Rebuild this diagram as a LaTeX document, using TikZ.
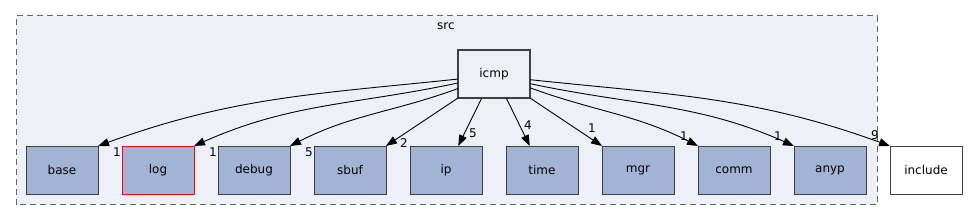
\documentclass[tikz,border=0pt]{standalone}
\usepackage{fontspec}
\setmainfont{DejaVu Sans}
\usepackage{tikz}
\usetikzlibrary{arrows.meta, positioning}
\usepackage{xcolor}
\definecolor{DirFill}{HTML}{A2B4D6}
\definecolor{DirLine}{HTML}{404040}
\definecolor{ClusterFill}{HTML}{EDF0F7}
\definecolor{ClusterLine}{HTML}{666666}

\tikzset{
  dirbox/.style={draw=DirLine, fill=DirFill, line width=0.8pt, minimum width=72pt,
                 minimum height=48pt, inner sep=0pt, outer sep=0pt,
                 font=\fontsize{12}{14}\selectfont},
  depedge/.style={black, line width=0.9pt, -{Triangle[length=11pt, width=8pt]}},
  countlabel/.style={inner sep=0pt, font=\fontsize{12}{14}\selectfont},
}

\begin{document}
\begin{tikzpicture}[x=1pt, y=1pt, node distance=24pt]
  \useasboundingbox (0,0) rectangle (968,221);

  % the src cluster
  \draw[ClusterLine, fill=ClusterFill, line width=1pt, dash pattern=on 6pt off 4pt]
    (16,16) rectangle (877,205);
  \node[countlabel] (srclabel) at (446,195) {src};

  % directories
  \node[dirbox, fill=ClusterFill, line width=1.6pt] (icmp) at (494,147) {icmp};
  \node[dirbox] (base) at (62,51) {base};
  \node[dirbox, draw=red, right=of base] (log) {log};
  \node[dirbox, right=of log] (debug) {debug};
  \node[dirbox, right=of debug] (sbuf) {sbuf};
  \node[dirbox, right=of sbuf] (ip) {ip};
  \node[dirbox, right=of ip] (time) {time};
  \node[dirbox, right=of time] (mgr) {mgr};
  \node[dirbox, right=of mgr] (comm) {comm};
  \node[dirbox, right=of comm] (anyp) {anyp};
  \node[dirbox, fill=white, right=of anyp] (include) {include};

  % dependencies
  \draw[depedge] (icmp.188) to[out=186, in=20] (base.north east);
  \draw[depedge] (icmp.194) to[out=192, in=24] (log.north east);
  \draw[depedge] (icmp.202) to[out=200, in=27] (debug.north east);
  \draw[depedge] (icmp.south west) -- (sbuf.north east);
  \draw[depedge] (icmp.243) -- (ip.63);
  \draw[depedge] (icmp.297) -- (time.117);
  \draw[depedge] (icmp.south east) -- (mgr.north west);
  \draw[depedge] (icmp.339) to[out=-20, in=153] (comm.north west);
  \draw[depedge] (icmp.345) to[out=-12, in=156] (anyp.north west);
  \draw[depedge] (icmp.351) to[out=-6, in=160] (include.north west);

  % counts
  \node[countlabel] (nbase) at (117,69) {1};
  \node[countlabel] (nlog) at (213,69) {1};
  \node[countlabel] (ndebug) at (309,69) {5};
  \node[countlabel] (nsbuf) at (404,78) {2};
  \node[countlabel] (nip) at (473,88) {5};
  \node[countlabel] (ntime) at (528,96) {4};
  \node[countlabel] (nmgr) at (592,93) {1};
  \node[countlabel] (ncomm) at (684,85) {1};
  \node[countlabel] (nanyp) at (778,85) {1};
  \node[countlabel] (ninclude) at (875,86) {9};
\end{tikzpicture}
\end{document}
